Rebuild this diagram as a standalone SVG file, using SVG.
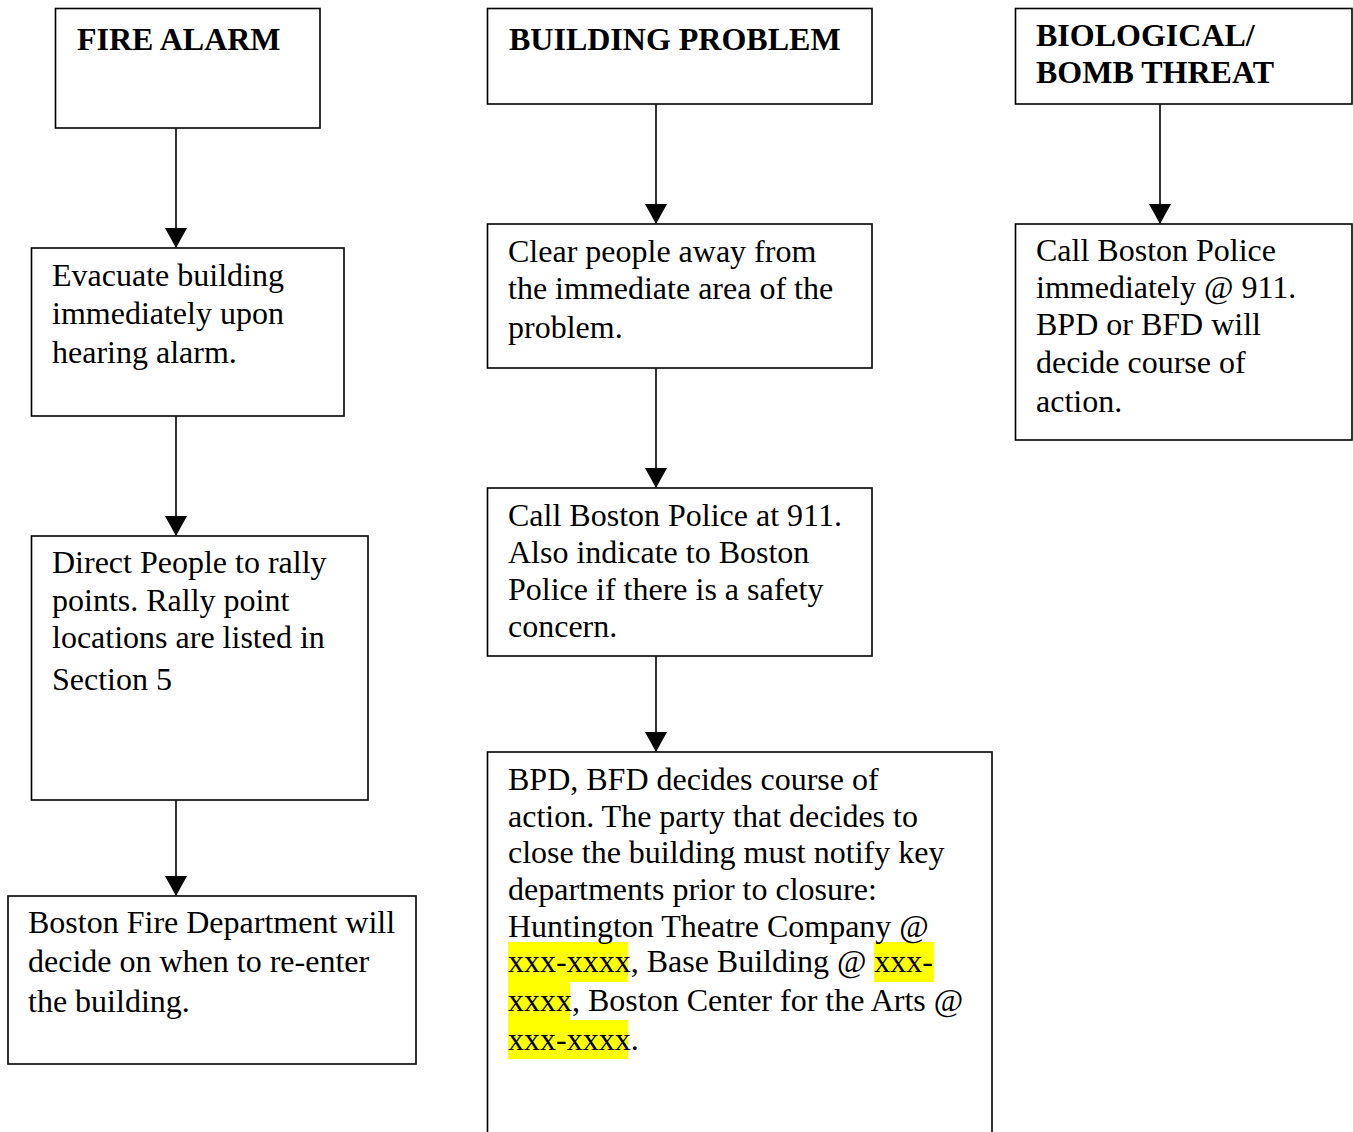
<svg xmlns="http://www.w3.org/2000/svg" width="1353" height="1132" viewBox="0 0 1353 1132">
<style>
.box{fill:#fff;stroke:#000;stroke-width:1.6}
.t{font-family:"Liberation Serif","Times New Roman",serif;font-size:32px;fill:#000}
.h{font-weight:bold}
.c{stroke:#000;stroke-width:1.6;fill:none;marker-end:url(#ah)}
.hl{fill:#ffff00}
</style>
<defs>
<marker id="ah" markerUnits="userSpaceOnUse" viewBox="0 0 20 22" markerWidth="20" markerHeight="22" refX="20" refY="11" orient="auto">
<path d="M0,0 L20,11 L0,22 Z" fill="#000"/>
</marker>
</defs>
<rect width="1353" height="1132" fill="#fff"/>
<g id="connectors">
<line class="c" x1="176" y1="128" x2="176" y2="248"/>
<line class="c" x1="176" y1="416" x2="176" y2="536"/>
<line class="c" x1="176" y1="800" x2="176" y2="896"/>
<line class="c" x1="656" y1="104" x2="656" y2="224"/>
<line class="c" x1="656" y1="368" x2="656" y2="488"/>
<line class="c" x1="656" y1="656" x2="656" y2="752"/>
<line class="c" x1="1160" y1="104" x2="1160" y2="224"/>
</g>
<g id="fire-alarm">
<rect class="box" x="55.5" y="8.5" width="264.5" height="119.5"/>
<text class="t h" x="77" y="50">FIRE ALARM</text>
</g>
<g id="evacuate">
<rect class="box" x="31.5" y="248" width="312.5" height="168"/>
<text class="t" x="52"><tspan x="52" y="286">Evacuate building</tspan><tspan x="52" y="324">immediately upon</tspan><tspan x="52" y="363">hearing alarm.</tspan></text>
</g>
<g id="direct-people">
<rect class="box" x="31.5" y="536" width="336.5" height="264"/>
<text class="t"><tspan x="52" y="573">Direct People to rally</tspan><tspan x="52" y="611">points. Rally point</tspan><tspan x="52" y="648">locations are listed in</tspan><tspan x="52" y="690">Section 5</tspan></text>
</g>
<g id="boston-fire">
<rect class="box" x="8" y="896" width="408" height="168"/>
<text class="t"><tspan x="28" y="933">Boston Fire Department will</tspan><tspan x="28" y="972">decide on when to re-enter</tspan><tspan x="28" y="1012">the building.</tspan></text>
</g>
<g id="building-problem">
<rect class="box" x="487.5" y="8.5" width="384.5" height="95.5"/>
<text class="t h" x="509" y="50">BUILDING PROBLEM</text>
</g>
<g id="clear-people">
<rect class="box" x="487.5" y="224" width="384.5" height="144"/>
<text class="t"><tspan x="508" y="262">Clear people away from</tspan><tspan x="508" y="299">the immediate area of the</tspan><tspan x="508" y="338">problem.</tspan></text>
</g>
<g id="call-police-911">
<rect class="box" x="487.5" y="488" width="384.5" height="168"/>
<text class="t"><tspan x="508" y="526">Call Boston Police at 911.</tspan><tspan x="508" y="563">Also indicate to Boston</tspan><tspan x="508" y="600">Police if there is a safety</tspan><tspan x="508" y="637">concern.</tspan></text>
</g>
<g id="bpd-bfd">
<rect class="box" x="487.5" y="752" width="504.5" height="400"/>
<rect class="hl" x="508" y="942" width="120" height="40"/>
<rect class="hl" x="874" y="942" width="60" height="40"/>
<rect class="hl" x="508" y="982" width="62" height="38"/>
<rect class="hl" x="508" y="1020" width="120" height="39"/>
<text class="t"><tspan x="508" y="790">BPD, BFD decides course of</tspan><tspan x="508" y="827">action. The party that decides to</tspan><tspan x="508" y="863">close the building must notify key</tspan><tspan x="508" y="900">departments prior to closure:</tspan><tspan x="508" y="937">Huntington Theatre Company @</tspan><tspan x="508" y="972">xxx-xxxx, Base Building @ xxx-</tspan><tspan x="508" y="1011">xxxx, Boston Center for the Arts @</tspan><tspan x="508" y="1050">xxx-xxxx.</tspan></text>
</g>
<g id="bio-bomb">
<rect class="box" x="1015.5" y="8.5" width="336.5" height="95.5"/>
<text class="t h"><tspan x="1036" y="46">BIOLOGICAL/</tspan><tspan x="1036" y="83">BOMB THREAT</tspan></text>
</g>
<g id="call-police-immediately">
<rect class="box" x="1015.5" y="224" width="336.5" height="216"/>
<text class="t"><tspan x="1036" y="261">Call Boston Police</tspan><tspan x="1036" y="298">immediately @ 911.</tspan><tspan x="1036" y="335">BPD or BFD will</tspan><tspan x="1036" y="373">decide course of</tspan><tspan x="1036" y="412">action.</tspan></text>
</g>
</svg>
